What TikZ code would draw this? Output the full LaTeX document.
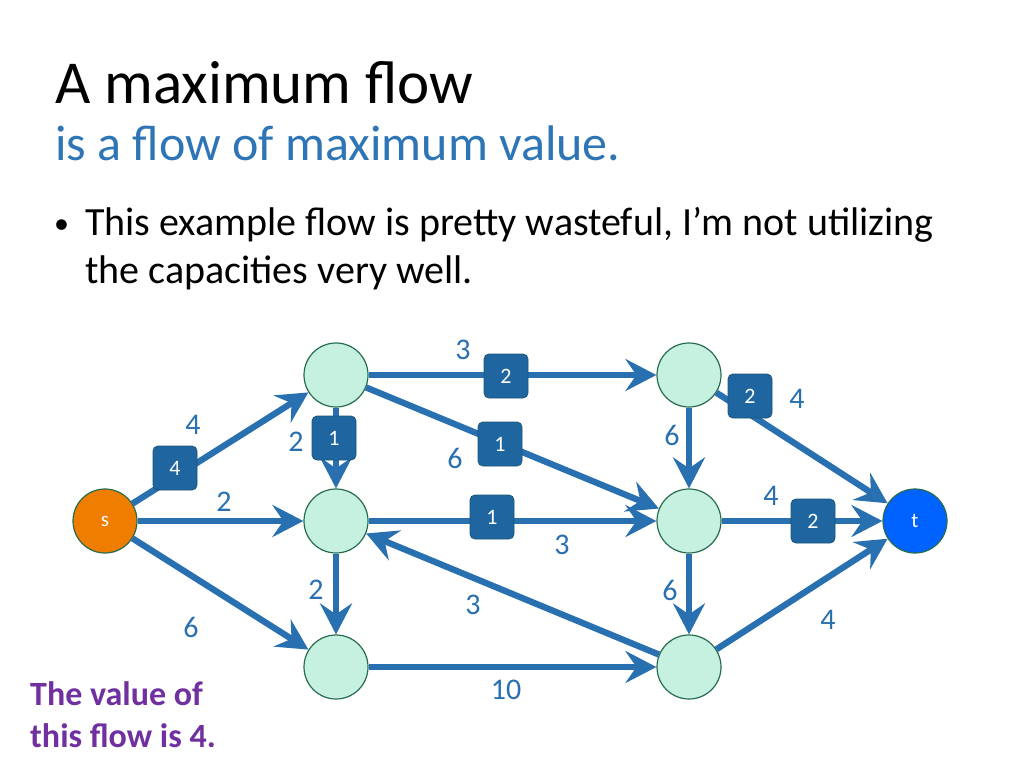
\documentclass[tikz,border=0pt]{standalone}
\usepackage{fontspec}
\setmainfont{Carlito}
\usetikzlibrary{arrows.meta}
\definecolor{edgeblue}{RGB}{40,112,176}
\definecolor{boxblue}{RGB}{31,101,160}
\definecolor{boxline}{RGB}{24,84,118}
\definecolor{mint}{RGB}{198,241,225}
\definecolor{mintline}{RGB}{38,108,78}
\definecolor{srcorange}{RGB}{238,125,0}
\definecolor{sinkblue}{RGB}{0,98,255}
\definecolor{subblue}{RGB}{46,117,182}
\definecolor{notepurple}{RGB}{112,48,160}
\tikzset{
  vertex/.style={circle, draw=mintline, line width=1.2pt, fill=mint,
    minimum size=64pt, inner sep=0pt, text=white, font=\fontsize{21}{21}\selectfont},
  flow/.style={edgeblue, line width=6.3pt, -{Stealth[length=31pt,width=32pt,inset=11pt]}},
  flowbox/.style={rectangle, rounded corners=5pt, draw=boxline, line width=0.8pt,
    fill=boxblue, minimum size=44pt, inner sep=0pt, text=white, font=\fontsize{22}{22}\selectfont},
  caplabel/.style={inner sep=0pt, text=edgeblue, font=\fontsize{30}{30}\selectfont}
}
\begin{document}
\begin{tikzpicture}[x=1pt, y=-1pt]
  \useasboundingbox (0,0) rectangle (1024,768);
  % heading and text
  \node[anchor=base west, inner sep=0pt, font=\fontsize{61}{61}\selectfont] (title) at (55,103) {A maximum flow};
  \node[anchor=base west, inner sep=0pt, text=subblue, font=\fontsize{50}{50}\selectfont] (subtitle) at (55,160) {is a flow of maximum value.};
  \node[anchor=base west, inner sep=0pt, font=\fontsize{30}{30}\selectfont] (bullet) at (54,233) {\textbullet};
  \node[anchor=base west, inner sep=0pt, font=\fontsize{40}{40}\selectfont] (line1) at (85,235) {This example flow is pretty wasteful, I’m not utilizing};
  \node[anchor=base west, inner sep=0pt, font=\fontsize{40}{40}\selectfont] (line2) at (85,283) {the capacities very well.};
  \node[anchor=base west, inner sep=0pt, text=notepurple, font=\fontsize{34}{34}\selectfont\bfseries] (note1) at (30,705) {The value of};
  \node[anchor=base west, inner sep=0pt, text=notepurple, font=\fontsize{34}{34}\selectfont\bfseries] (note2) at (30,747) {this flow is 4.};

  % vertices
  \node[vertex, fill=srcorange] (s) at (105,521) {s};
  \node[vertex] (a) at (336,375) {};
  \node[vertex] (b) at (336,521) {};
  \node[vertex] (c) at (336,667) {};
  \node[vertex] (d) at (689,375) {};
  \node[vertex] (e) at (689,521) {};
  \node[vertex] (f) at (689,667) {};
  \node[vertex, fill=sinkblue] (t) at (915,521) {t};

  % edges
  \draw[flow] (s) -- (a);
  \draw[flow] (s) -- (b);
  \draw[flow] (s) -- (c);
  \draw[flow] (a) -- (d);
  \draw[flow] (a) -- (b);
  \draw[flow] (a) -- (e);
  \draw[flow] (b) -- (e);
  \draw[flow] (b) -- (c);
  \draw[flow] (f) -- (b);
  \draw[flow] (c) -- (f);
  \draw[flow] (d) -- (e);
  \draw[flow] (d) -- (t);
  \draw[flow] (e) -- (t);
  \draw[flow] (e) -- (f);
  \draw[flow] (f) -- (t);

  % flow values
  \node[flowbox] (fsa) at (175,468) {4};
  \node[flowbox] (fad) at (506,376) {2};
  \node[flowbox] (fab) at (334,438) {1};
  \node[flowbox] (fae) at (500,444) {1};
  \node[flowbox] (fbe) at (492,517) {1};
  \node[flowbox] (fdt) at (750,396) {2};
  \node[flowbox] (fet) at (813,521) {2};

  % capacities
  \node[caplabel] (csa) at (193,425) {4};
  \node[caplabel] (csb) at (224,502) {2};
  \node[caplabel] (csc) at (191,627) {6};
  \node[caplabel] (cad) at (463,350) {3};
  \node[caplabel] (cab) at (296,442) {2};
  \node[caplabel] (cae) at (455,458) {6};
  \node[caplabel] (cbe) at (562,545) {3};
  \node[caplabel] (cbc) at (316,590) {2};
  \node[caplabel] (cfb) at (473,605) {3};
  \node[caplabel] (ccf) at (506,690) {10};
  \node[caplabel] (cde) at (672,435) {6};
  \node[caplabel] (cdt) at (797,399) {4};
  \node[caplabel] (cet) at (771,496) {4};
  \node[caplabel] (cef) at (670,590) {6};
  \node[caplabel] (cft) at (828,620) {4};
\end{tikzpicture}
\end{document}
